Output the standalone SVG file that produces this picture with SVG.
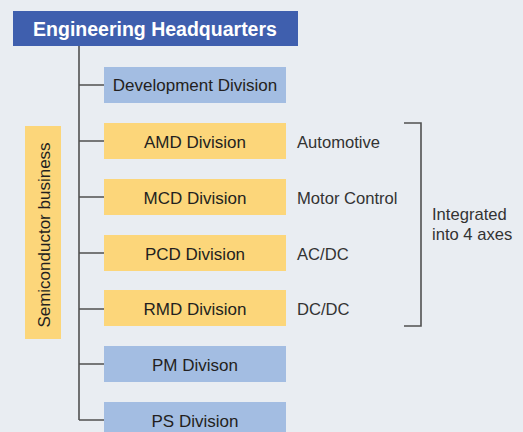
<svg xmlns="http://www.w3.org/2000/svg" width="523" height="432" viewBox="0 0 523 432">
<style>
text{font-family:"Liberation Sans",Arial,sans-serif;fill:#231f20;}
.lbl{font-size:17px;text-anchor:middle;}
.side{font-size:16.6px;fill:#333;}
.blue{fill:#a3bde2;}
.yellow{fill:#fcd67a;}
.ln{stroke:#505050;stroke-width:1.6;fill:none;}
</style>
<rect width="523" height="432" fill="#e9edf2"/>
<g id="connectors">
<path class="ln" d="M79 46V420M79 85H104M79 141H104M79 197H104M79 253H104M79 309H104M79 364H104M79 420H104"/>
<path class="ln" d="M404 123H421V326H404"/>
</g>
<g id="hq"><rect x="13" y="11" width="285" height="35" fill="#3f5fae"/><text x="155" y="36" font-size="19.5" font-weight="bold" text-anchor="middle" style="fill:#fff">Engineering Headquarters</text></g>
<g id="semi"><rect x="25" y="126" width="36" height="213" class="yellow"/><text class="lbl" transform="translate(49.5 235) rotate(-90)" x="0" y="0">Semiconductor business</text></g>
<g id="dev"><rect x="104" y="67" width="182" height="36" class="blue"/><text class="lbl" x="195" y="91">Development Division</text></g>
<g id="amd"><rect x="104" y="123" width="182" height="36" class="yellow"/><text class="lbl" x="195" y="147.5">AMD Division</text></g>
<g id="mcd"><rect x="104" y="179" width="182" height="36" class="yellow"/><text class="lbl" x="195" y="203.5">MCD Division</text></g>
<g id="pcd"><rect x="104" y="235" width="182" height="36" class="yellow"/><text class="lbl" x="195" y="259.5">PCD Division</text></g>
<g id="rmd"><rect x="104" y="290" width="182" height="36" class="yellow"/><text class="lbl" x="195" y="314.5">RMD Division</text></g>
<g id="pm"><rect x="104" y="346" width="182" height="36" class="blue"/><text class="lbl" x="195" y="370.5">PM Divison</text></g>
<g id="ps"><rect x="104" y="402" width="182" height="36" class="blue"/><text class="lbl" x="195" y="426.5">PS Division</text></g>
<g id="labels">
<text class="side" x="297" y="148">Automotive</text>
<text class="side" x="297" y="203.5">Motor Control</text>
<text class="side" x="297" y="259.5">AC/DC</text>
<text class="side" x="297" y="315">DC/DC</text>
<text class="side" x="432" y="220">Integrated</text>
<text class="side" x="432" y="240">into 4 axes</text>
</g>
</svg>
